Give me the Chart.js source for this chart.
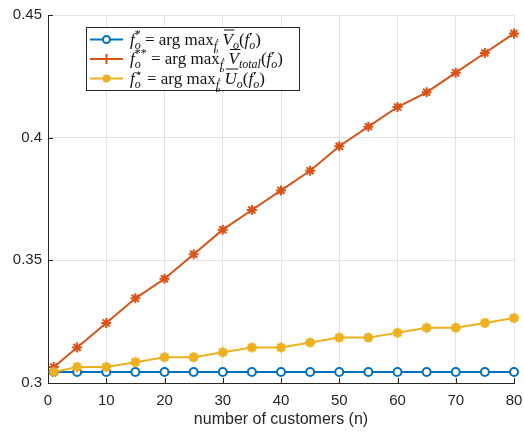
<!DOCTYPE html>
<html>
<head>
<meta charset="utf-8">
<script src="https://cdn.jsdelivr.net/npm/chart.js@4"></script>
<style>
  body { margin: 0; background: #fff; }
</style>
</head>
<body>
<canvas id="chart" width="524" height="434"></canvas>
<script>
// number of customers on the x axis
const nCustomers = [1, 5, 10, 15, 20, 25, 30, 35, 40, 45, 50, 55, 60, 65, 70, 75, 80];
// f_o^* (argmax of V_o) - flat
const fStarV = [0.3045, 0.3045, 0.3045, 0.3045, 0.3045, 0.3045, 0.3045, 0.3045, 0.3045,
                0.3045, 0.3045, 0.3045, 0.3045, 0.3045, 0.3045, 0.3045, 0.3045];
// f_o^** (argmax of V_total)
const fStarStarTotal = [0.3065, 0.3145, 0.3245, 0.3345, 0.3425, 0.3525, 0.3625, 0.3705, 0.3785,
                        0.3865, 0.3965, 0.4045, 0.4125, 0.4185, 0.4265, 0.4345, 0.4425];
// f_o^star (argmax of U_o)
const fStarU = [0.3045, 0.3065, 0.3065, 0.3085, 0.3105, 0.3105, 0.3125, 0.3145, 0.3145,
                0.3165, 0.3185, 0.3185, 0.3205, 0.3225, 0.3225, 0.3245, 0.3265];
const xTicks = [0, 10, 20, 30, 40, 50, 60, 70, 80];
const yTicks = [0.3, 0.35, 0.4, 0.45];

const BLUE = '#0072BD';
const RED = '#D95319';
const YELLOW = '#EDB120';
const AXIS = '#262626';
const GRID = '#e3e3e3';

const toPoints = (ys) => ys.map((y, i) => ({ x: nCustomers[i], y: y }));

// legend text as small pieces (t, italic, size, dy, overline, mark/back for stacked sub+sup)
const SERIF = '"Liberation Serif", "DejaVu Serif", serif';
const PRIME_FONT = '"DejaVu Sans", sans-serif';
function legendPieces(sup, body, bodySub) {
    return [
        { t: 'f', i: true, s: 17, dy: 0 },
        { t: 'o', i: true, s: 12, dy: 4, mark: true },
        { t: sup, i: false, s: 12, dy: -7, back: true },
        { t: ' = arg max', i: false, s: 17, dy: 0 },
        { t: 'f', i: true, s: 12, dy: 5 },
        { t: '\u2032', i: false, s: 12, dy: 3, f: PRIME_FONT, pull: 1 },
        { t: 'o', i: true, s: 9, dy: 8, pull: 5 },
        { t: ' ', i: false, s: 17, dy: 0 },
        { t: body, i: true, s: 17, dy: 0, over: true },
        { t: bodySub, i: true, s: 12, dy: 4 },
        { t: '(', i: false, s: 17, dy: 0 },
        { t: 'f', i: true, s: 17, dy: 0 },
        { t: '\u2032', i: false, s: 15, dy: 0, mark: true, f: PRIME_FONT },
        { t: 'o', i: true, s: 12, dy: 4, back: true },
        { t: ')', i: false, s: 17, dy: 0 }
    ];
}
const legendItems = [
    { color: BLUE, marker: 'circle', pieces: legendPieces('*', 'V', 'o') },
    { color: RED, marker: 'plus', pieces: legendPieces('**', 'V', 'total') },
    { color: YELLOW, marker: 'dot', pieces: legendPieces('\u22C6', 'U', 'o') }
];

const customLegend = {
    id: 'customLegend',
    afterDraw(chart) {
        const ctx = chart.ctx;
        const bx = 86, by = 27, bw = 213, bh = 63;
        ctx.save();
        ctx.fillStyle = '#fff';
        ctx.fillRect(bx, by, bw, bh);
        ctx.strokeStyle = AXIS;
        ctx.lineWidth = 1;
        ctx.strokeRect(bx + 0.5, by + 0.5, bw, bh);
        const rows = [39.5, 59, 78.5];
        legendItems.forEach((item, k) => {
            const y = rows[k];
            ctx.strokeStyle = item.color;
            ctx.lineWidth = 2;
            ctx.beginPath();
            ctx.moveTo(90, y);
            ctx.lineTo(123, y);
            ctx.stroke();
            const cx = 106.5;
            if (item.marker === 'circle') {
                ctx.fillStyle = '#fff';
                ctx.beginPath();
                ctx.arc(cx, y, 3.5, 0, Math.PI * 2);
                ctx.fill();
                ctx.stroke();
            } else if (item.marker === 'plus') {
                ctx.beginPath();
                ctx.moveTo(cx, y - 5);
                ctx.lineTo(cx, y + 5);
                ctx.stroke();
            } else {
                ctx.fillStyle = item.color;
                ctx.beginPath();
                ctx.arc(cx, y, 4, 0, Math.PI * 2);
                ctx.fill();
            }
            // text
            let x = 130;
            let markX = x;
            ctx.fillStyle = '#111';
            ctx.textBaseline = 'alphabetic';
            const base = y + 5;
            item.pieces.forEach((p) => {
                ctx.font = (p.i ? 'italic ' : '') + p.s + 'px ' + (p.f || SERIF);
                const w = ctx.measureText(p.t).width;
                let px = p.back ? markX : x - (p.pull || 0);
                ctx.fillText(p.t, px, base + p.dy);
                if (p.over) {
                    ctx.strokeStyle = '#111';
                    ctx.lineWidth = 1;
                    ctx.beginPath();
                    ctx.moveTo(px + 1.5, base - 14.5);
                    ctx.lineTo(px + w + 1.5, base - 14.5);
                    ctx.stroke();
                }
                if (p.mark) markX = px;
                if (p.back) x = Math.max(x, px + w);
                else x = px + w;
            });
        });
        ctx.restore();
    }
};

// small inward tick marks like the original figure
const inwardTicks = {
    id: 'inwardTicks',
    afterDatasetsDraw(chart) {
        const ctx = chart.ctx;
        const a = chart.chartArea;
        const xs = chart.scales.x, ys = chart.scales.y;
        ctx.save();
        ctx.strokeStyle = AXIS;
        ctx.lineWidth = 1;
        ctx.beginPath();
        xTicks.forEach((v) => {
            const px = Math.round(xs.getPixelForValue(v)) + 0.5;
            ctx.moveTo(px, a.bottom);
            ctx.lineTo(px, a.bottom - 5);
        });
        yTicks.forEach((v) => {
            const py = Math.round(ys.getPixelForValue(v)) + 0.5;
            ctx.moveTo(a.left, py);
            ctx.lineTo(a.left + 5, py);
        });
        ctx.stroke();
        ctx.restore();
    }
};

new Chart(document.getElementById('chart').getContext('2d'), {
    type: 'line',
    data: {
        datasets: [
            {
                label: 'f_o^*',
                data: toPoints(fStarV),
                borderColor: BLUE,
                backgroundColor: '#fff',
                borderWidth: 2,
                pointStyle: 'circle',
                pointRadius: 4,
                pointBorderWidth: 2,
                pointBorderColor: BLUE,
                pointBackgroundColor: '#fff',
                order: 3,
                clip: false
            },
            {
                label: 'f_o^**',
                data: toPoints(fStarStarTotal),
                borderColor: RED,
                backgroundColor: RED,
                borderWidth: 2,
                pointStyle: 'star',
                pointRadius: 5,
                pointBorderWidth: 2,
                pointBorderColor: RED,
                order: 2,
                clip: false
            },
            {
                label: 'f_o^star',
                data: toPoints(fStarU),
                borderColor: YELLOW,
                backgroundColor: YELLOW,
                borderWidth: 2,
                pointStyle: 'star',
                pointRadius: 5,
                pointBorderWidth: 2.8,
                pointBorderColor: YELLOW,
                order: 1,
                clip: false
            }
        ]
    },
    options: {
        responsive: false,
        animation: false,
        layout: { padding: { top: 15, right: 10, left: 0, bottom: 0 } },
        plugins: {
            legend: { display: false },
            tooltip: { enabled: false }
        },
        scales: {
            x: {
                type: 'linear',
                min: 0,
                max: 80,
                afterBuildTicks: (s) => { s.ticks = xTicks.map((v) => ({ value: v })); },
                afterFit: (s) => { s.height = 51; s.paddingLeft = 0; s.paddingRight = 0; },
                ticks: {
                    color: AXIS,
                    font: { family: '"Liberation Sans", Arial, sans-serif', size: 15 },
                    padding: 9,
                    maxRotation: 0
                },
                grid: { color: GRID, drawTicks: false },
                border: { color: AXIS, width: 1 },
                title: {
                    display: true,
                    text: 'number of customers (n)',
                    color: AXIS,
                    font: { family: '"Liberation Sans", Arial, sans-serif', size: 16 },
                    padding: { top: 0, bottom: 5 }
                }
            },
            y: {
                min: 0.3,
                max: 0.45,
                afterBuildTicks: (s) => { s.ticks = yTicks.map((v) => ({ value: v })); },
                afterFit: (s) => { s.width = 48; s.paddingTop = 0; s.paddingBottom = 0; },
                ticks: {
                    color: AXIS,
                    font: { family: '"Liberation Sans", Arial, sans-serif', size: 15 },
                    padding: 6,
                    callback: (v) => String(Number(v.toFixed(2)))
                },
                grid: { color: GRID, drawTicks: false },
                border: { color: AXIS, width: 1 }
            }
        }
    },
    plugins: [inwardTicks, customLegend]
});
</script>
</body>
</html>
